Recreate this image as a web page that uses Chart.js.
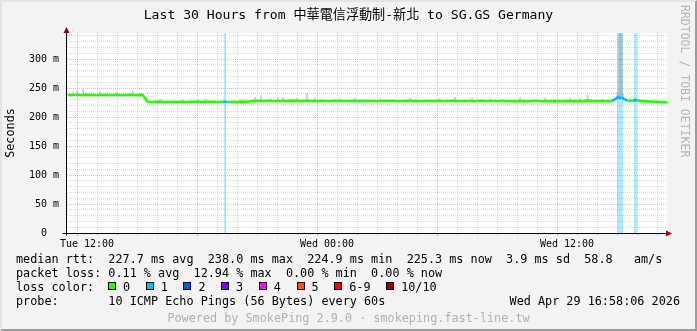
<!DOCTYPE html>
<html>
<head>
<meta charset="utf-8">
<title>SmokePing - Last 30 Hours</title>
<script src="https://cdn.jsdelivr.net/npm/chart.js@4"></script>
<style>
  body { margin: 0; background: #fff; }
  #graph { position: relative; width: 697px; height: 331px; background: #f3f3f3; color: #000;
           font-family: 'DejaVu Sans Mono', monospace; overflow: hidden; }
  #graph canvas { position: absolute; left: 0; top: 0; }
  .frame { position: absolute; left: 0; top: 0; width: 697px; height: 331px; box-sizing: border-box;
           border: 2px solid; border-color: #e4e4e4 #9c9c9c #9c9c9c #e4e4e4; pointer-events: none; }
  .title { position: absolute; left: 0; top: 6px; width: 697px; text-align: center; font-size: 13.1px;
           line-height: 18px; white-space: pre; font-family: 'DejaVu Sans Mono', 'Noto Sans CJK TC', monospace; }
  .mark { position: absolute; left: 679px; top: 5px; writing-mode: vertical-rl; font-size: 11.5px;
          line-height: 12px; color: #b4b4b4; white-space: pre; }
  .row { position: absolute; left: 16px; font-size: 11.8px; line-height: 14px; white-space: pre; }
  .date { position: absolute; right: 17px; top: 294px; font-size: 11.8px; line-height: 14px; white-space: pre; }
  .foot { position: absolute; left: 0; top: 311px; width: 697px; text-align: center; font-size: 11.8px;
          line-height: 14px; color: #b0b0b0; white-space: pre; }
  #lossKey { position: absolute; left: 92px; top: 0; }
  #lossKey .box { display: inline-block; width: 6px; height: 6px; border: 1px solid #000;
                  vertical-align: 1px; margin-right: 7px; }
  #lossKey .lbl { margin-right: 15.6px; }
</style>
</head>
<body>
<div id="graph">
  <canvas id="rtt" width="697" height="331"></canvas>
  <div class="title">Last 30 Hours from 中華電信浮動制-新北 to SG.GS Germany</div>
  <div class="mark">RRDTOOL / TOBI OETIKER</div>
  <div class="row" style="top:252px">median rtt:  227.7 ms avg  238.0 ms max  224.9 ms min  225.3 ms now  3.9 ms sd  58.8   am/s</div>
  <div class="row" style="top:266px">packet loss: 0.11 % avg  12.94 % max  0.00 % min  0.00 % now</div>
  <div class="row" style="top:280px">loss color:<span id="lossKey"></span></div>
  <div class="row" style="top:294px">probe:       10 ICMP Echo Pings (56 Bytes) every 60s</div>
  <div class="date">Wed Apr 29 16:58:06 2026</div>
  <div class="foot">Powered by SmokePing 2.9.0 · smokeping.fast-line.tw</div>
  <div class="frame"></div>
</div>
<script>
// time axis is hours since Tue 00:00, graph ends Wed 16:58:06
const xMin = 10.968;
const xMax = 40.968;
const yMax = 345; // ms at top of plot

const xTickHours = [12, 24, 36];
const xTickLabels = ['Tue 12:00', 'Wed 00:00', 'Wed 12:00'];

// median rtt (ms), one value every 15 min starting 11:00 Tue
const sampleStart = 11;
const sampleStep = 0.25;
const medianRtt = [
    238.2, 237.6, 238.4, 237.9, 238.6, 237.8, 238.1, 238.5, 237.6, 238.0, 238.3, 237.7, 238.4, 238.0, 237.8, 238.2,
    226.3, 226.0, 226.6, 226.2, 225.9, 226.5, 226.1, 226.4, 225.8, 226.3, 226.6, 226.0, 226.2, 226.5, 225.9, 226.3,
    226.1, 226.4, 226.0, 226.6, 226.2,
    227.6, 228.0, 227.5, 228.2, 227.8, 227.4, 228.1, 227.7, 228.3, 227.6, 227.9, 228.2, 227.5, 227.8, 228.0, 227.4,
    227.9, 228.2, 227.6, 227.8, 228.1, 227.5, 227.9, 227.7,
    227.8, 227.4, 228.0, 227.6, 227.9, 227.3, 227.7, 228.1, 227.5, 227.8, 227.4, 227.9, 227.6, 228.0, 227.3, 227.7,
    227.9, 227.5, 227.8, 227.6, 227.2, 227.7, 228.0, 227.4, 227.8, 227.6, 227.9, 227.3, 227.7, 227.5, 227.8, 227.4,
    227.9, 227.6, 227.3, 227.7, 227.5, 227.8, 227.4, 227.6,
    227.5, 227.8, 227.3, 228.4, 227.6, 227.4, 227.7, 227.5, 227.8,
    234.0, 232.5, 227.9, 228.6, 228.8, 227.4, 227.0, 226.6, 226.2, 225.8, 225.3
];

// smoke spikes above the median: time (h) and highest ping (ms)
const smokeTimes = [
    11.27, 11.47, 11.77, 11.92, 12.62, 12.97, 13.47, 14.12, 14.27, 14.62,
    15.62, 16.77, 17.87, 19.62,
    20.37, 20.67, 21.12, 21.52, 21.77, 22.47, 22.97, 23.37, 24.62, 25.37, 26.62, 28.12, 29.62, 30.37,
    31.22, 32.12, 33.62, 34.87, 36.12, 36.62,
    36.99, 37.72, 38.22, 38.49, 38.59, 38.69, 38.77, 39.12, 39.32, 39.42, 39.87
];
const smokeTops = [
    243, 245, 248, 242, 244, 242, 243, 242, 244, 241,
    230, 229, 230, 230,
    234, 237, 232, 233, 234, 232, 241, 233, 232, 233, 232, 233, 232, 234,
    233, 232, 234, 233, 233, 232,
    238, 231, 232, 243, 345, 345, 240, 231, 233, 232, 230
];

// packet loss periods (h), loss level 1
const lossStart = [18.82, 38.47, 39.32];
const lossEnd = [18.92, 38.77, 39.48];

const lossLabels = ['0', '1', '2', '3', '4', '5', '6-9', '10/10'];
const lossColors = ['#26ff00', '#00b8ff', '#0059ff', '#7e00ff', '#ff00ff', '#ff5500', '#ff0000', '#a10000'];

// Loss colour key
const key = document.getElementById('lossKey');
lossLabels.forEach((label, i) => {
    key.insertAdjacentHTML('beforeend',
        `<span class="box" style="background:${lossColors[i]}"></span><span class="lbl">${label}</span>`);
});

// Build datasets
const medianPoints = medianRtt.map((v, i) => ({ x: sampleStart + i * sampleStep, y: v }));
const medianAt = t => medianRtt[Math.min(medianRtt.length - 1, Math.max(0, Math.round((t - sampleStart) / sampleStep)))];
const smokePoints = smokeTimes.map((t, i) => ({ x: t, y: [medianAt(t), smokeTops[i]] }));
const lossPoints = [];
lossStart.forEach((s, i) => {
    lossPoints.push({ x: s, y: yMax }, { x: lossEnd[i], y: yMax }, { x: lossEnd[i], y: null });
});
const inLoss = (a, b) => lossStart.some((s, i) => a < lossEnd[i] && b > s);

const majorGrid = 'rgba(255, 0, 0, 0.3)';
const minorGrid = 'rgba(160, 160, 160, 0.4)';
const monoFont = { family: "'DejaVu Sans Mono', monospace", size: 10 };
const gridColor = every => ctx => (ctx.tick && Math.round(ctx.tick.value) % every === 0) ? majorGrid : minorGrid;

// White plot area, black axes with red arrow heads
const plotFrame = {
    id: 'plotFrame',
    beforeDraw(chart) {
        const { ctx, chartArea: a } = chart;
        ctx.save();
        ctx.fillStyle = '#ffffff';
        ctx.fillRect(a.left, a.top, a.right - a.left, a.bottom - a.top);
        ctx.restore();
    },
    afterDatasetsDraw(chart) {
        const { ctx, chartArea: a } = chart;
        const x0 = Math.round(a.left) - 0.5;
        const y0 = Math.round(a.bottom) + 0.5;
        ctx.save();
        ctx.strokeStyle = '#000';
        ctx.lineWidth = 1;
        ctx.beginPath();
        ctx.moveTo(x0, y0 + 2);
        ctx.lineTo(x0, a.top - 3);
        ctx.moveTo(x0 - 4, y0);
        ctx.lineTo(a.right + 2, y0);
        ctx.stroke();
        ctx.fillStyle = '#a00000';
        ctx.beginPath();
        ctx.moveTo(x0, a.top - 6);
        ctx.lineTo(x0 - 3, a.top);
        ctx.lineTo(x0 + 3, a.top);
        ctx.closePath();
        ctx.fill();
        ctx.beginPath();
        ctx.moveTo(a.right + 5, y0);
        ctx.lineTo(a.right - 1, y0 - 3);
        ctx.lineTo(a.right - 1, y0 + 3);
        ctx.closePath();
        ctx.fill();
        ctx.restore();
    }
};

new Chart(document.getElementById('rtt'), {
    type: 'line',
    data: {
        datasets: [
            {
                label: 'loss',
                data: lossPoints,
                backgroundColor: 'rgba(0, 184, 255, 0.32)',
                borderWidth: 0,
                pointRadius: 0,
                fill: 'origin',
                spanGaps: false,
                order: 3
            },
            {
                type: 'bar',
                label: 'smoke',
                data: smokePoints,
                backgroundColor: 'rgba(120, 120, 120, 0.32)',
                barThickness: 1.5,
                grouped: false,
                order: 2
            },
            {
                label: 'median rtt',
                data: medianPoints,
                borderColor: lossColors[0],
                borderWidth: 2.6,
                pointRadius: 0,
                tension: 0,
                segment: {
                    borderColor: ctx => inLoss(ctx.p0.parsed.x, ctx.p1.parsed.x) ? lossColors[1] : lossColors[0]
                },
                order: 1
            }
        ]
    },
    options: {
        responsive: false,
        animation: false,
        layout: { padding: { left: 0, top: 33, right: 30, bottom: 78 } },
        plugins: { legend: { display: false }, tooltip: { enabled: false } },
        scales: {
            x: {
                type: 'linear',
                min: xMin,
                max: xMax,
                offset: false,
                afterFit: scale => { scale.height = 20; },
                border: { display: false, dash: [1, 1] },
                grid: {
                    color: gridColor(6),
                    tickColor: gridColor(6),
                    tickLength: 3
                },
                ticks: {
                    stepSize: 1,
                    includeBounds: false,
                    autoSkip: false,
                    maxRotation: 0,
                    padding: 2,
                    color: '#000',
                    font: monoFont,
                    callback: v => {
                        const i = xTickHours.indexOf(Math.round(v));
                        return i >= 0 ? xTickLabels[i] : '';
                    }
                }
            },
            y: {
                min: 0,
                max: yMax,
                afterFit: scale => { scale.width = 67; },
                border: { display: false, dash: [1, 1] },
                grid: {
                    color: gridColor(50),
                    drawTicks: false
                },
                title: {
                    display: true,
                    text: 'Seconds',
                    color: '#000',
                    font: { family: "'DejaVu Sans Mono', monospace", size: 11.8 },
                    padding: { top: 3.5, bottom: 0 }
                },
                ticks: {
                    stepSize: 10,
                    includeBounds: false,
                    autoSkip: false,
                    padding: 8,
                    color: '#000',
                    font: monoFont,
                    callback: v => v % 50 === 0 ? (v === 0 ? '0  ' : v + ' m') : ''
                }
            }
        }
    },
    plugins: [plotFrame]
});
</script>
</body>
</html>
